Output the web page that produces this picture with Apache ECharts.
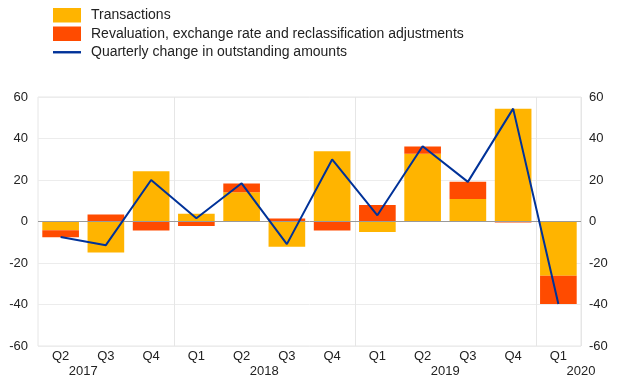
<!DOCTYPE html>
<html>
<head>
<meta charset="utf-8">
<script src="https://cdn.jsdelivr.net/npm/echarts@6/dist/echarts.min.js"></script>
<style>html,body{margin:0;padding:0;background:#fff}#c{width:620px;height:387px}</style>
</head>
<body>
<div id="c"></div>
<script>
const quarters = ['Q2','Q3','Q4','Q1','Q2','Q3','Q4','Q1','Q2','Q3','Q4','Q1'];
const yearLabels = ['2017','2018','2019','2020'];
const yearPositions = [0.5, 4.5, 8.5, 11.5];
const transactions = [-4.2, -14.9, 24.2, 3.7, 14.1, -12.2, 33.9, -5.1, 32.7, 10.9, 54.3, -26.2];
const revaluation = [-3.4, 3.4, -4.3, -2.2, 4.2, 1.4, -4.3, 8.0, 3.5, 8.2, -0.5, -13.6];
const quarterlyChange = [-7.5, -11.4, 20.0, 1.6, 18.4, -10.9, 29.9, 3.0, 36.3, 19.1, 54.4, -39.8];

const font = 'Liberation Sans, Arial, sans-serif';
const chart = echarts.init(document.getElementById('c'), null, {renderer: 'canvas'});
const isYearStart = (i) => quarters[i] === 'Q1';

chart.setOption({
  animation: false,
  textStyle: {fontFamily: font},
  legend: {
    orient: 'vertical', left: 48, top: 3,
    itemWidth: 28, itemHeight: 14.5, itemGap: 4,
    textStyle: {fontSize: 14, color: '#222', fontFamily: font, padding: [0,0,0,5]},
    data: [
      {name: 'Transactions', icon: 'rect'},
      {name: 'Revaluation, exchange rate and reclassification adjustments', icon: 'rect'},
      {name: 'Quarterly change in outstanding amounts',
       icon: 'path://M0,0 M0,6.05 L28,6.05 L28,8.45 L0,8.45 Z M28,14.5',
       itemStyle: {color: '#003299', borderWidth: 0}}
    ]
  },
  grid: {left: 38, right: 39, top: 97, bottom: 41, show: true, borderColor: '#e6e6e6', borderWidth: 1},
  xAxis: [
    {
      type: 'category', data: quarters, boundaryGap: true, position: 'bottom',
      axisLine: {show: false},
      axisTick: {show: true, length: 6, lineStyle: {color: '#e6e6e6'}, interval: (i) => isYearStart(i)},
      splitLine: {show: true, lineStyle: {color: '#e6e6e6'}, interval: (i) => isYearStart(i)},
      axisLabel: {fontSize: 13, color: '#222', margin: 4, interval: 0, fontFamily: font}
    },
    {
      type: 'value', min: -0.5, max: 11.5, position: 'bottom', offset: 15,
      axisLine: {show: false}, axisTick: {show: false}, splitLine: {show: false},
      axisLabel: {
        fontSize: 13, color: '#222', margin: 4, fontFamily: font,
        customValues: yearPositions,
        formatter: (v) => { const k = yearPositions.findIndex(p => Math.abs(p - v) < 1e-6); return k >= 0 ? yearLabels[k] : ''; }
      }
    }
  ],
  yAxis: [
    {
      type: 'value', min: -60, max: 60, interval: 20, position: 'left',
      axisLine: {show: false}, axisTick: {show: false},
      splitLine: {show: true, lineStyle: {color: '#ececec'}},
      axisLabel: {fontSize: 13, color: '#222', margin: 10, fontFamily: font}
    },
    {
      type: 'value', min: -60, max: 60, interval: 20, position: 'right',
      axisLine: {show: false}, axisTick: {show: false}, splitLine: {show: false},
      axisLabel: {fontSize: 13, color: '#222', margin: 8, fontFamily: font}
    }
  ],
  series: [
    {
      name: 'Transactions', type: 'bar', stack: 'total', barWidth: '81%',
      itemStyle: {color: '#FFB400'}, data: transactions,
      markLine: {silent: true, symbol: 'none', label: {show: false},
        lineStyle: {color: '#999', type: 'solid', width: 1}, data: [{yAxis: 0}]}
    },
    {
      name: 'Revaluation, exchange rate and reclassification adjustments', type: 'bar', stack: 'total', barWidth: '81%',
      itemStyle: {color: '#FF4B00'}, data: revaluation
    },
    {
      name: 'Quarterly change in outstanding amounts', type: 'line', symbol: 'none',
      lineStyle: {color: '#003299', width: 2}, itemStyle: {color: '#003299'},
      data: quarterlyChange, z: 5
    }
  ]
});
</script>
</body>
</html>
